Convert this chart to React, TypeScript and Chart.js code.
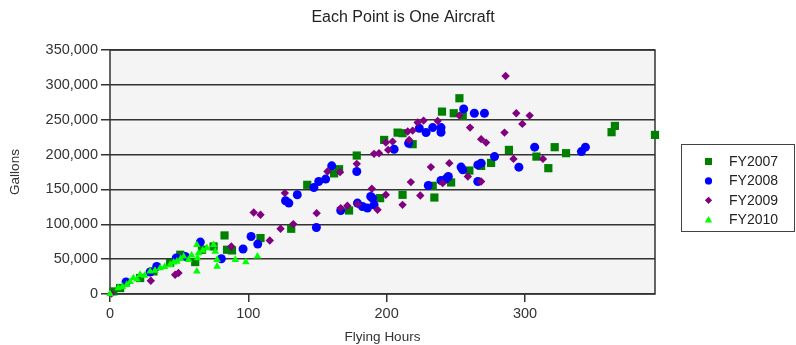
import React, { useEffect, useRef } from "react";
import { Chart, registerables } from "chart.js";

Chart.register(...registerables);

const chartTitle = "Each Point is One Aircraft";
const xTitle = "Flying Hours";
const yTitle = "Gallons";
const seriesLabels = ["FY2007", "FY2008", "FY2009", "FY2010"];

const fy2007Hours = [2.4, 7.3, 21.8, 31.4, 43.5, 50.8, 61.6, 66.5, 74.9, 82.8, 84.6, 88.2, 108.8, 131, 142.6, 162, 165.6, 172.8, 178.4, 195.3, 198.2, 207.9, 211.5, 211.5, 218.8, 233.3, 234.5, 240, 246.6, 248.5, 252.6, 255, 259.8, 268.3, 275.5, 288.4, 308.3, 316.9, 321.5, 329.7, 362.6, 365, 394];
const fy2007Gallons = [3700, 8600, 22900, 32400, 44400, 56300, 45800, 63500, 68200, 84000, 63500, 62500, 80200, 93600, 156600, 173000, 179000, 119800, 198600, 137500, 221000, 231500, 230700, 142300, 214900, 155200, 138400, 261600, 160000, 259300, 280800, 255500, 177100, 183800, 188000, 206700, 197100, 180500, 210600, 202000, 232100, 241100, 228200];

const fy2008Hours = [11.6, 29, 33.8, 47.9, 54.4, 65.3, 80.5, 96.2, 102, 106.8, 126.9, 129.3, 135.4, 147.4, 149.2, 150.9, 155.9, 160.3, 166.8, 178.4, 178.9, 182.5, 186.1, 188.5, 189.8, 190.9, 205.4, 215.9, 223.6, 228.5, 230.1, 233.3, 239.3, 239.3, 239.3, 242.9, 244.6, 253.8, 255, 255.7, 263.4, 265.9, 265.9, 268.3, 270.7, 278, 295.6, 307, 340.8, 343.7];
const fy2008Gallons = [17200, 31500, 39500, 51600, 53900, 74500, 50600, 64500, 82500, 71600, 133700, 130400, 142300, 152700, 95400, 161300, 164800, 183800, 119800, 175700, 130400, 125500, 123200, 139800, 137500, 127900, 207700, 216300, 237800, 231500, 155600, 238700, 238700, 232100, 162800, 165200, 168500, 182000, 178100, 265500, 259300, 185200, 161300, 187700, 259300, 197100, 181900, 210600, 204300, 210600];

const fy2009Hours = [1, 29.5, 47.1, 49.5, 87.7, 103.9, 108.8, 115.5, 123.3, 126.4, 132.5, 149.4, 157.2, 166.3, 166.8, 171.6, 178.4, 179, 189.3, 190.9, 193.4, 194.5, 199.4, 199.4, 201.1, 204.3, 211.5, 215.2, 216.3, 217.5, 218.8, 222.4, 224.3, 226.7, 232, 236.9, 240.5, 245.3, 252.6, 258.7, 260.3, 268.3, 268.3, 271.9, 285.2, 286, 291.7, 293.7, 298.1, 303.4, 313];
const fy2009Gallons = [500, 19100, 27700, 30100, 68200, 116900, 113600, 76800, 93600, 144700, 100300, 116000, 175700, 174800, 123200, 126500, 186700, 128900, 150900, 201000, 120800, 202000, 217200, 142300, 206700, 218600, 127900, 233000, 221000, 160500, 234400, 245900, 141300, 248700, 182000, 248300, 159000, 187700, 255900, 168500, 238700, 222100, 161300, 217200, 231500, 312800, 193800, 259300, 244000, 255900, 193800];

const fy2010Hours = [0, 6, 9, 12.1, 14.5, 16.9, 19.5, 21.8, 25, 29, 32.5, 36.3, 39.5, 43.5, 46, 48.3, 51, 53.2, 56.8, 59, 62.8, 63.3, 64, 62.8, 67, 70, 74.9, 76.1, 77.4, 77.4, 90.6, 98.2, 106.6];
const fy2010Gallons = [0, 8600, 10500, 13300, 17500, 22900, 21000, 27700, 26500, 32400, 33500, 37200, 39000, 42000, 45500, 46700, 50500, 53900, 49100, 55500, 32400, 51600, 58700, 70600, 62500, 66000, 70600, 61000, 39500, 49100, 49100, 46000, 53900];

const xTickValues = [0, 100, 200, 300];
const xMax = 394;
const yMax = 350000;
const yStep = 50000;

const FONT = "'Liberation Sans', Arial, sans-serif";

const seriesStyles = [
  { color: "#008000", shape: "rect", radius: 5.8 },
  { color: "#0000ff", shape: "circle", radius: 4.5 },
  { color: "#800080", shape: "rectRot", radius: 4.2 },
  { color: "#00ff00", shape: "triangle", radius: 4.4 },
];

function drawMarker(ctx: CanvasRenderingContext2D, shape: string, x: number, y: number, r: number, color: string) {
  ctx.save();
  ctx.fillStyle = color;
  ctx.beginPath();
  if (shape === "rect") {
    ctx.rect(x - r, y - r, 2 * r, 2 * r);
  } else if (shape === "circle") {
    ctx.arc(x, y, r, 0, Math.PI * 2);
  } else if (shape === "rectRot") {
    ctx.moveTo(x - r, y);
    ctx.lineTo(x, y - r);
    ctx.lineTo(x + r, y);
    ctx.lineTo(x, y + r);
    ctx.closePath();
  } else {
    ctx.moveTo(x, y - r);
    ctx.lineTo(x + r, y + r * 0.8);
    ctx.lineTo(x - r, y + r * 0.8);
    ctx.closePath();
  }
  ctx.fill();
  ctx.restore();
}

export default function App() {
  const ref = useRef<HTMLCanvasElement>(null);

  useEffect(() => {
    document.body.style.margin = "0";
    const canvas = ref.current;
    if (!canvas) return;

    const pts = (xs: number[], ys: number[]) => xs.map((x, i) => ({ x, y: ys[i] }));
    const allX = [fy2007Hours, fy2008Hours, fy2009Hours, fy2010Hours];
    const allY = [fy2007Gallons, fy2008Gallons, fy2009Gallons, fy2010Gallons];

    const datasets = seriesLabels.map((label, i) => ({
      label,
      data: pts(allX[i], allY[i]),
      pointStyle: seriesStyles[i].shape,
      pointRadius: seriesStyles[i].radius,
      pointHoverRadius: seriesStyles[i].radius,
      backgroundColor: seriesStyles[i].color,
      borderColor: seriesStyles[i].color,
      pointBorderWidth: 0,
      borderWidth: 0,
      showLine: false,
      clip: false as any,
      order: 4 - i,
    }));

    const decor = {
      id: "decor",
      beforeDraw(chart: any) {
        const { ctx, chartArea: a } = chart;
        ctx.save();
        ctx.fillStyle = "#ffffff";
        ctx.fillRect(0, 0, chart.width, chart.height);
        ctx.fillStyle = "#f4f4f4";
        ctx.fillRect(a.left, a.top, a.right - a.left, a.bottom - a.top);
        ctx.restore();
      },
      beforeDatasetsDraw(chart: any) {
        const { ctx, chartArea: a } = chart;
        ctx.save();
        ctx.strokeStyle = "#333333";
        ctx.lineWidth = 1.5;
        ctx.strokeRect(a.left, a.top, a.right - a.left, a.bottom - a.top);
        ctx.restore();
      },
      afterDraw(chart: any) {
        const { ctx } = chart;
        ctx.save();
        ctx.fillStyle = "#222222";
        ctx.font = `16px ${FONT}`;
        ctx.textAlign = "center";
        ctx.textBaseline = "middle";
        ctx.fillText(chartTitle, 403, 17.5);
        ctx.strokeStyle = "#444444";
        ctx.lineWidth = 1;
        ctx.strokeRect(681.5, 144.5, 113, 87);
        ctx.font = `14px ${FONT}`;
        ctx.textAlign = "left";
        seriesLabels.forEach((label, i) => {
          const y = 161.5 + i * 19.4;
          const st = seriesStyles[i];
          drawMarker(ctx, st.shape, 708.5, y, st.shape === "rect" ? 3.5 : 3.6, st.color);
          ctx.fillStyle = "#222222";
          ctx.fillText(label, 729, y + 0.5);
        });
        ctx.restore();
      },
    };

    const chart = new Chart(canvas, {
      type: "scatter",
      data: { datasets: datasets as any },
      options: {
        responsive: false,
        animation: false,
        events: [],
        layout: { padding: { top: 50, right: 141, left: 0, bottom: 0 } },
        plugins: {
          legend: { display: false },
          title: { display: false },
          tooltip: { enabled: false },
        },
        scales: {
          x: {
            type: "linear",
            min: 0,
            max: xMax,
            afterFit: (s: any) => { s.height = 51; },
            afterBuildTicks: (s: any) => {
              s.ticks = xTickValues.map((v) => ({ value: v }));
            },
            grid: {
              drawOnChartArea: false,
              drawTicks: true,
              tickLength: 8,
              color: "#333333",
              lineWidth: 1.5,
            },
            border: { display: false },
            ticks: {
              padding: 3,
              color: "#333333",
              font: { family: FONT, size: 14.5 },
              maxRotation: 0,
              callback: (v: any) => String(v),
            },
            title: {
              display: true,
              text: xTitle,
              color: "#333333",
              font: { family: FONT, size: 13.5 },
              padding: { top: 0, bottom: 0 },
            },
          },
          y: {
            type: "linear",
            min: 0,
            max: yMax,
            afterFit: (s: any) => { s.width = 110; },
            ticks: {
              stepSize: yStep,
              padding: 3,
              color: "#333333",
              font: { family: FONT, size: 14.5 },
              callback: (v: any) => Number(v).toLocaleString("en-US"),
            },
            grid: {
              drawOnChartArea: true,
              drawTicks: true,
              tickLength: 9,
              color: "#333333",
              lineWidth: 1.5,
            },
            border: { display: false },
            title: {
              display: true,
              text: yTitle,
              color: "#333333",
              font: { family: FONT, size: 13.5 },
              padding: { top: 7, bottom: 0 },
            },
          },
        },
      },
      plugins: [decor],
    });

    return () => chart.destroy();
  }, []);

  return (
    <div style={{ width: 796, height: 345 }}>
      <canvas ref={ref} width={796} height={345} style={{ display: "block" }} />
    </div>
  );
}
